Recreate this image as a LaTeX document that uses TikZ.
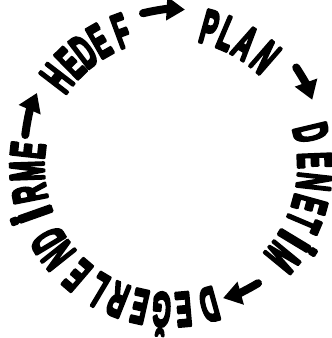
\documentclass[tikz,border=0pt]{standalone}
\usepackage{fontspec}
\usepackage{tikz}
\usetikzlibrary{arrows.meta}
\newfontfamily\ringfont{Liberation Sans Bold}[FakeBold=7]
\newcommand{\wideI}{\scalebox{1.7}[1]{İ}}

\begin{document}
\begin{tikzpicture}[line join=round,
  ringletter/.style={font=\ringfont\fontsize{41}{43}\selectfont, inner sep=0pt, text height=29pt, text depth=0pt},
  ringarrow/.style={line width=0.24cm, line cap=round, -{Triangle[length=0.55cm, width=0.68cm]}}]
\useasboundingbox (-5.13,-5.16) rectangle (4.80,4.98);

% letters round the ring, tops pointing outward
\foreach \ch/\ang [count=\i] in {H/142.5, E/134.4, D/127.3, E/119.8, F/110.3,
    P/74.5, L/66.9, A/58.8, N/49,
    D/13.4, E/2.3, N/-6.3, E/-15.5, T/-23, \wideI/-31.2, M/-39.4,
    D/-74.6, E/-85, Ğ/-93.8, E/-102.6, R/-111.6, L/-120.8, E/-130.6,
    N/-141.5, D/-149, \wideI/-160.5, R/-168.9, M/-178, E/-186.3}
  \node[ringletter, rotate=\ang-90] (c\i) at (\ang:4.33) {\scalebox{0.5}[1]{\ch}};

% arrows between the words
\coordinate (hedefend) at (100.4:4.66);
\coordinate (planstart) at (84.9:4.71);
\coordinate (planend) at (38.2:4.78);
\coordinate (denetimstart) at (25.1:4.68);
\coordinate (denetimend) at (-53.4:4.38);
\coordinate (degerstart) at (-68.5:4.26);
\coordinate (degerend) at (168:4.47);
\coordinate (hedefstart) at (151.4:4.58);

\draw[ringarrow] (hedefend) to[bend left=8] (planstart);
\draw[ringarrow] (planend) to[bend left=6.5] (denetimstart);
\draw[ringarrow] (denetimend) to[bend left=7.5] (degerstart);
\draw[ringarrow] (degerend) to[bend left=8] (hedefstart);
\end{tikzpicture}
\end{document}
